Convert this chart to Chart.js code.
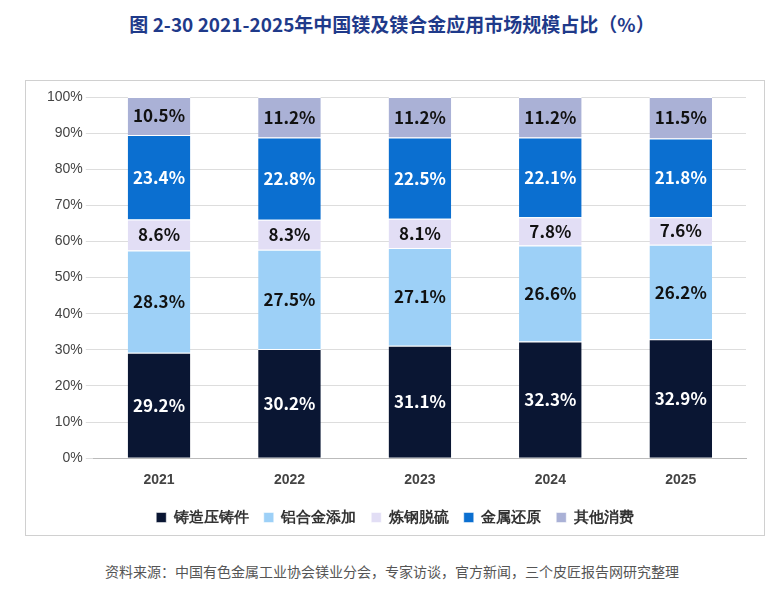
<!DOCTYPE html>
<html><head><meta charset="utf-8">
<script src="https://cdn.jsdelivr.net/npm/chart.js@4"></script>
<style>
body{margin:0;background:#fff;font-family:"Noto Sans CJK SC","Noto Sans",sans-serif;}
#title{position:absolute;left:0;top:10px;width:784px;text-align:center;font-size:19px;font-weight:bold;color:#1f3a8a;}
#box{position:absolute;left:25px;top:80px;width:740px;height:456px;border:1px solid #d0d0d0;box-sizing:border-box;}
#src{position:absolute;left:0;top:561px;width:784px;text-align:center;font-size:14px;color:#555;}
</style></head><body>
<div id="title">图 2-30 2021-2025年中国镁及镁合金应用市场规模占比（%）</div>
<div id="box"><canvas id="c"></canvas></div>
<div id="src">资料来源：中国有色金属工业协会镁业分会，专家访谈，官方新闻，三个皮匠报告网研究整理</div>
<script>
const years = ['2021','2022','2023','2024','2025'];
const names = ['铸造压铸件','铝合金添加','炼钢脱硫','金属还原','其他消费'];
const casting = [29.2,30.2,31.1,32.3,32.9];
const alloy = [28.3,27.5,27.1,26.6,26.2];
const steel = [8.6,8.3,8.1,7.8,7.6];
const reduce = [23.4,22.8,22.5,22.1,21.8];
const other = [10.5,11.2,11.2,11.2,11.5];
const colors = ['#0a1633','#9dd0f7','#e2def5','#0b6fd0','#aab1d6'];
const labelColors = ['#fff','#111','#111','#fff','#111'];
const series = [casting,alloy,steel,reduce,other];

const labelPlugin = {
  id:'lbl',
  afterDatasetsDraw(chart){
    const ctx = chart.ctx;
    ctx.save();
    ctx.font = 'bold 17px "Noto Sans CJK SC","Noto Sans",sans-serif';
    ctx.textAlign='center';ctx.textBaseline='middle';
    chart.data.datasets.forEach((ds,i)=>{
      chart.getDatasetMeta(i).data.forEach((bar,j)=>{
        ctx.fillStyle = labelColors[i];
        ctx.fillText(ds.data[j].toFixed(1)+'%', bar.x, (bar.y+bar.base)/2);
      });
    });
    ctx.restore();
  }
};

const c = document.getElementById('c');
c.width=738;c.height=454;
new Chart(c,{
  type:'bar',
  data:{labels:years,datasets:series.map((d,i)=>({label:names[i],data:d,backgroundColor:colors[i],borderColor:'#fff',borderWidth:{top:1,bottom:1},barPercentage:0.6,categoryPercentage:0.8}))},
  options:{
    responsive:false,animation:false,
    layout:{padding:{left:18,right:18,top:16,bottom:0}},
    scales:{
      x:{stacked:true,grid:{display:false},border:{color:'#bbb'},ticks:{padding:6,color:'#444',font:{size:14,weight:'bold'}}},
      y:{stacked:true,min:0,max:100,ticks:{stepSize:10,color:'#444',font:{size:14},callback:v=>v+'%'},grid:{color:'#ddd'},border:{display:false}}
    },
    plugins:{
      legend:{position:'bottom',labels:{boxWidth:10,boxHeight:10,padding:15,color:'#333',font:{size:15,weight:'bold'}}},
      tooltip:{enabled:false}
    }
  },
  plugins:[labelPlugin]
});
</script>
</body></html>
